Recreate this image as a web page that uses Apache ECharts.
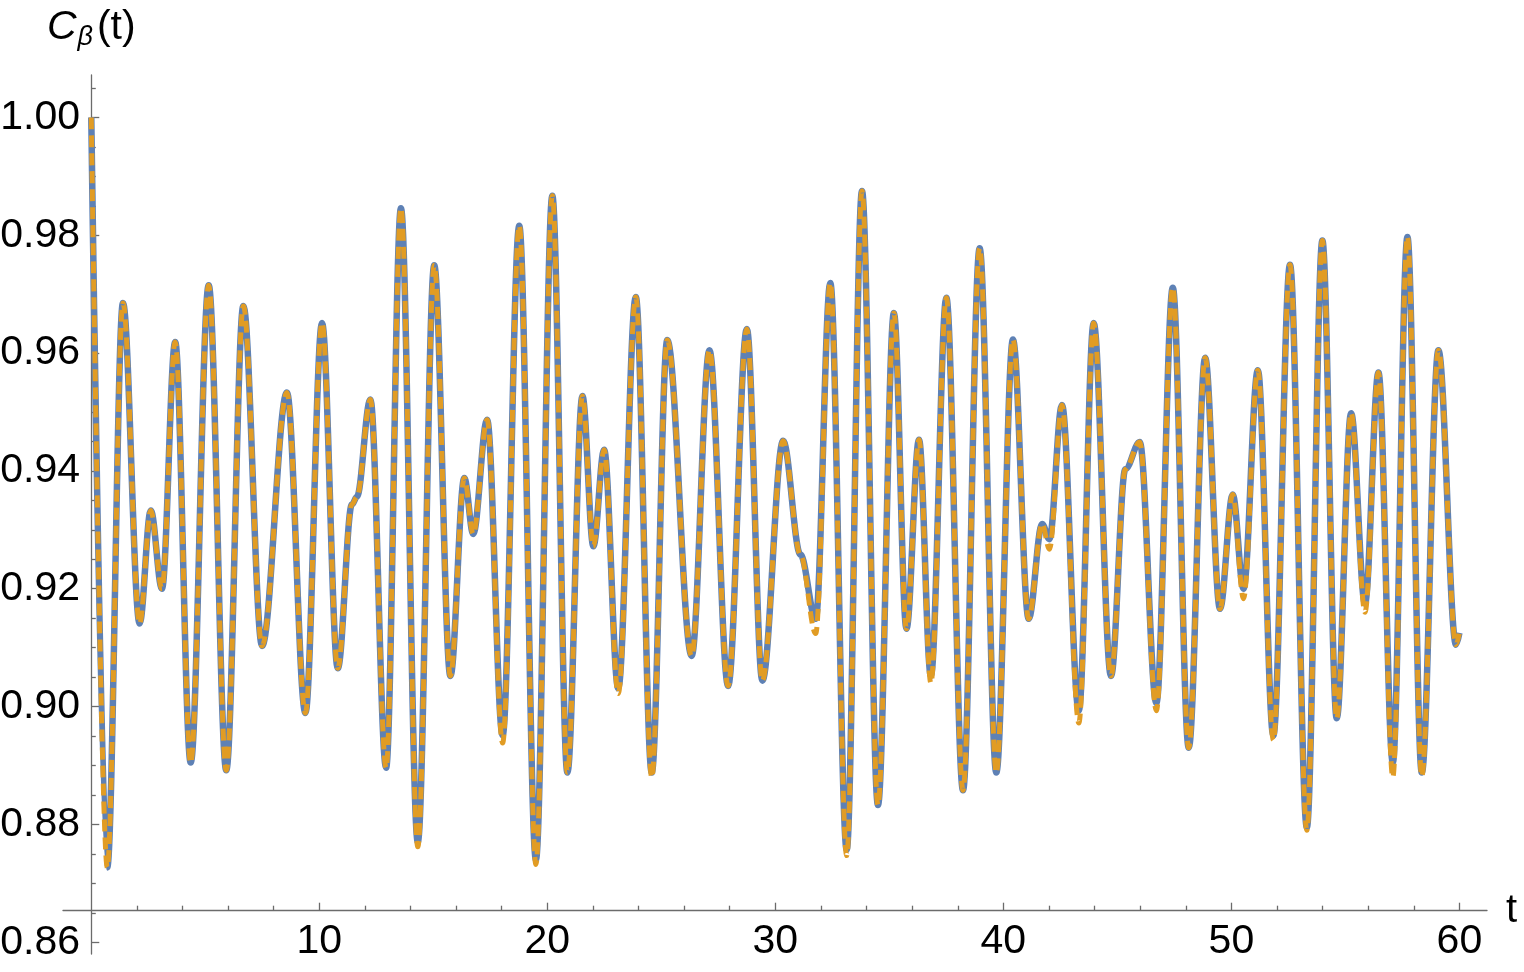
<!DOCTYPE html>
<html>
<head>
<meta charset="utf-8">
<title>C_beta(t)</title>
<script src="https://cdn.jsdelivr.net/npm/echarts@6/dist/echarts.min.js"></script>
<style>
  html, body { margin: 0; padding: 0; background: #fff; }
  #main { width: 1524px; height: 972px; }
</style>
</head>
<body>
<div id="main"></div>
<script>
// sample times: local maxima / minima and shoulders
var times = [
  0, 0.70, 1.39, 2.12, 2.61, 3.10, 3.68, 4.36, 5.15, 5.92,
  6.67, 7.49, 8.58, 9.39, 10.12, 10.81, 11.43, 11.65, 12.24, 12.93,
  13.58, 14.32, 15.04, 15.75, 16.36, 16.75, 17.36, 18.04, 18.77, 19.50,
  20.22, 20.88, 21.54, 22.02, 22.49, 23.11, 23.88, 24.58, 25.26, 26.33,
  27.11, 27.93, 28.75, 29.43, 30.34, 31.10, 31.77, 32.41, 33.13, 33.80,
  34.50, 35.20, 35.75, 36.30, 36.82, 37.50, 38.23, 38.96, 39.69, 40.42,
  41.11, 41.70, 42.02, 42.57, 43.31, 43.96, 44.72, 45.35, 45.98, 46.71,
  47.43, 48.13, 48.85, 49.50, 50.06, 50.53, 51.16, 51.84, 52.57, 53.31,
  53.99, 54.62, 55.25, 55.86, 56.45, 57.08, 57.72, 58.35, 59.08, 59.85,
  60.00
];
// solid blue curve
var solidValues = [
  1.000, 0.8727, 0.9685, 0.9141, 0.9333, 0.9200, 0.9619, 0.8905, 0.9715, 0.8892,
  0.9680, 0.9103, 0.9533, 0.8989, 0.9651, 0.9065, 0.9343, 0.9356, 0.9521, 0.8896,
  0.9846, 0.8770, 0.9749, 0.9052, 0.9388, 0.9293, 0.9487, 0.8951, 0.9816, 0.8740,
  0.9867, 0.8888, 0.9527, 0.9272, 0.9436, 0.9031, 0.9695, 0.8888, 0.9622, 0.9086,
  0.9605, 0.9035, 0.9641, 0.9044, 0.9451, 0.9258, 0.9149, 0.9719, 0.8757, 0.9875,
  0.8833, 0.9668, 0.9132, 0.9453, 0.9052, 0.9694, 0.8858, 0.9778, 0.8888, 0.9623,
  0.9149, 0.9310, 0.9284, 0.9512, 0.8993, 0.9651, 0.9052, 0.9403, 0.9449, 0.9006,
  0.9711, 0.8930, 0.9592, 0.9166, 0.9360, 0.9200, 0.9571, 0.8951, 0.9750, 0.8795,
  0.9791, 0.8980, 0.9498, 0.9175, 0.9567, 0.8905, 0.9797, 0.8888, 0.9605, 0.9105,
  0.9125
];
// dashed orange curve (dips a little deeper at some minima)
var dashedValues = [
  1.000, 0.8727, 0.9685, 0.9141, 0.9333, 0.9200, 0.9619, 0.8905, 0.9715, 0.8892,
  0.9680, 0.9103, 0.9533, 0.8989, 0.9651, 0.9065, 0.9343, 0.9356, 0.9521, 0.8896,
  0.9846, 0.8762, 0.9749, 0.9052, 0.9388, 0.9293, 0.9487, 0.8938, 0.9816, 0.8732,
  0.9867, 0.8888, 0.9527, 0.9272, 0.9436, 0.9022, 0.9695, 0.8880, 0.9622, 0.9086,
  0.9605, 0.9035, 0.9641, 0.9044, 0.9451, 0.9258, 0.9124, 0.9719, 0.8747, 0.9875,
  0.8833, 0.9668, 0.9132, 0.9453, 0.9040, 0.9694, 0.8858, 0.9778, 0.8888, 0.9623,
  0.9149, 0.9310, 0.9267, 0.9512, 0.8972, 0.9651, 0.9052, 0.9403, 0.9449, 0.8993,
  0.9711, 0.8930, 0.9592, 0.9166, 0.9360, 0.9183, 0.9571, 0.8943, 0.9750, 0.8790,
  0.9791, 0.8980, 0.9498, 0.9160, 0.9567, 0.8880, 0.9797, 0.8882, 0.9605, 0.9105,
  0.9125
];

var xMajorTicks = [10, 20, 30, 40, 50, 60];
var xMinorTicks = [2, 4, 6, 8, 12, 14, 16, 18, 22, 24, 26, 28, 32, 34, 36, 38,
  42, 44, 46, 48, 52, 54, 56, 58];
var yMajorTicks = [0.86, 0.88, 0.90, 0.92, 0.94, 0.96, 0.98, 1.00];
var yMinorTicks = [0.865, 0.87, 0.875, 0.885, 0.89, 0.895, 0.905, 0.91, 0.915,
  0.925, 0.93, 0.935, 0.945, 0.95, 0.955, 0.965, 0.97, 0.975, 0.985, 0.99,
  0.995, 1.005];

var solidData = times.map(function (t, i) { return [t, solidValues[i]]; });
var dashedData = times.map(function (t, i) { return [t, dashedValues[i]]; });

var axisColor = "#6b6b6b";
var fontFam = "'Liberation Sans', Arial, sans-serif";
var xMin = -1.24, xMax = 61.21;
var yMin = 0.858, yMax = 1.0072;
var xOffset = -43.3;

var chart = echarts.init(document.getElementById("main"));

var option = {
  animation: false,
  backgroundColor: "#fff",
  grid: { left: 63, right: 37, top: 75, bottom: 18, containLabel: false, outerBoundsMode: "none" },
  xAxis: [
    {
      type: "value",
      position: "bottom",
      min: xMin,
      max: xMax,
      offset: xOffset,
      axisLine: { show: true, onZero: false, lineStyle: { color: axisColor, width: 1.3 } },
      axisTick: {
        show: true, inside: true, length: 8, customValues: xMajorTicks,
        lineStyle: { color: axisColor, width: 1.3 }
      },
      axisLabel: {
        customValues: xMajorTicks, margin: 10, color: "#000",
        fontSize: 41, fontFamily: fontFam
      },
      splitLine: { show: false },
      name: "t",
      nameLocation: "end",
      nameGap: 19,
      nameTextStyle: { color: "#000", fontSize: 40, fontFamily: fontFam, verticalAlign: "middle" }
    },
    {
      type: "value",
      position: "bottom",
      min: xMin,
      max: xMax,
      offset: xOffset,
      axisLine: { show: false, onZero: false },
      axisTick: {
        show: true, inside: true, length: 5, customValues: xMinorTicks,
        lineStyle: { color: axisColor, width: 1.3 }
      },
      axisLabel: { show: false },
      splitLine: { show: false }
    }
  ],
  yAxis: [
    {
      type: "value",
      position: "left",
      min: yMin,
      max: yMax,
      axisLine: { show: true, onZero: true, lineStyle: { color: axisColor, width: 1.3 } },
      axisTick: {
        show: true, inside: true, length: 8, customValues: yMajorTicks,
        lineStyle: { color: axisColor, width: 1.3 }
      },
      axisLabel: {
        customValues: yMajorTicks, margin: -17, color: "#000",
        fontSize: 41, fontFamily: fontFam,
        formatter: function (v) { return v.toFixed(2); }
      },
      splitLine: { show: false },
      name: "{c|C}{b|β}{p|(t)}",
      nameLocation: "end",
      nameGap: 24,
      nameTextStyle: {
        rich: {
          c: { fontSize: 41, fontStyle: "italic", fontFamily: fontFam, color: "#000", lineHeight: 46, verticalAlign: "middle" },
          b: { fontSize: 27, fontStyle: "italic", fontFamily: fontFam, color: "#000", lineHeight: 27, verticalAlign: "bottom", padding: [0, 4, 0, 1] },
          p: { fontSize: 41, fontFamily: fontFam, color: "#000", lineHeight: 46, verticalAlign: "middle" }
        }
      }
    },
    {
      type: "value",
      position: "left",
      min: yMin,
      max: yMax,
      axisLine: { show: false, onZero: true },
      axisTick: {
        show: true, inside: true, length: 4.5, customValues: yMinorTicks,
        lineStyle: { color: axisColor, width: 1.3 }
      },
      axisLabel: { show: false },
      splitLine: { show: false }
    }
  ],
  series: [
    {
      name: "solid",
      type: "line",
      xAxisIndex: 0,
      yAxisIndex: 0,
      data: solidData,
      smooth: 0.35,
      smoothMonotone: "x",
      showSymbol: false,
      symbol: "none",
      z: 2,
      lineStyle: { color: "#5E81B5", width: 6.5 }
    },
    {
      name: "dashed",
      type: "line",
      xAxisIndex: 0,
      yAxisIndex: 0,
      data: dashedData,
      smooth: 0.35,
      smoothMonotone: "x",
      showSymbol: false,
      symbol: "none",
      z: 3,
      lineStyle: { color: "#E19C24", width: 5, type: [12, 6] }
    }
  ]
};

chart.setOption(option);
</script>
</body>
</html>
